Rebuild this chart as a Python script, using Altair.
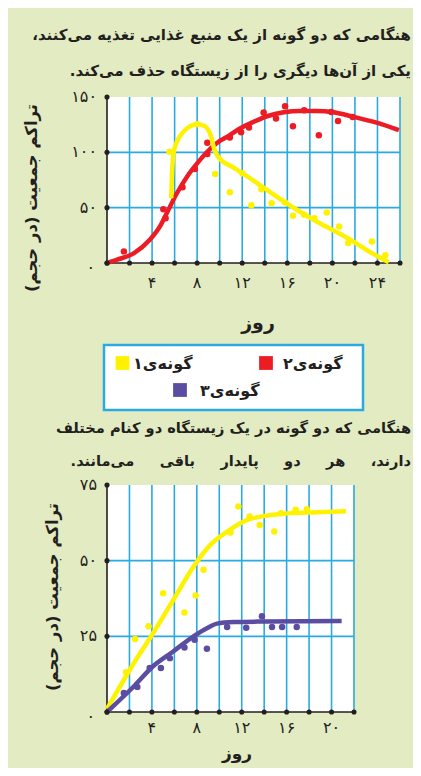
import altair as alt
import pandas as pd

# ---------------- data ----------------
# top panel: two species on one food source (species 1 yellow, species 2 red)
top_red_pts_day = [1.5, 5.0, 5.2, 6.7, 7.8, 8.9, 8.9, 10.9, 11.9, 12.6, 13.9, 15.0, 15.8, 16.5, 17.5, 18.8, 19.9, 20.5, 21.8]
top_red_pts_val = [10.5, 48.6, 40.5, 68.4, 85, 108.6, 98.4, 113.4, 118.2, 122.4, 136, 130.5, 141.6, 123.6, 138, 115.5, 136.5, 128.4, 132]
top_red_curve_day = [0, 0.9, 2.4, 3.8, 4.7, 5.3, 6.2, 7.1, 8.0, 8.9, 9.7, 10.9, 11.8, 13.0, 14.2, 15.7, 17.1, 18.6, 20.1, 21.9, 24.0, 25.9]
top_red_curve_val = [0, 3, 9, 21, 33, 45, 63, 78, 90, 100.5, 108, 115.5, 121.5, 127.5, 132.6, 136.2, 137.4, 137.4, 136.2, 132, 126.6, 120]

top_yel_pts_day = [5.55, 8.0, 9.6, 10.9, 12.0, 12.8, 13.7, 14.6, 15.8, 16.5, 17.5, 18.4, 19.5, 20.6, 21.4, 23.5, 24.7]
top_yel_pts_val = [100.5, 125.4, 80.4, 63.9, 81, 52.2, 66.6, 54, 54.6, 42.6, 43.5, 40.5, 45.6, 33, 18, 19.5, 6.9]
top_yel_curve_day = [5.7, 5.76, 5.9, 6.2, 6.65, 7.2, 8.0, 8.6, 9.2, 9.5, 9.9, 11.2, 12.7, 14.2, 15.7, 17.1, 18.6, 20.1, 21.6, 23.0, 25.0]
top_yel_curve_val = [58.5, 78, 99, 109.5, 117, 122.4, 125.4, 124, 115.5, 103.5, 95.4, 86.4, 76.5, 66, 55.5, 46.5, 37.5, 29.4, 21, 12, 0.6]

# bottom panel: two niches in one habitat (species 1 yellow, species 3 purple)
bot_yel_pts_day = [1.7, 2.5, 3.7, 5.0, 6.9, 7.9, 8.6, 11.0, 11.7, 12.7, 13.6, 14.9, 15.5, 16.8, 17.8]
bot_yel_pts_val = [13.1, 24.1, 28.3, 39.2, 32.9, 38.5, 47, 59.3, 67.9, 64.6, 61.8, 59.6, 65.7, 66.8, 67]
bot_yel_curve_day = [0, 2.4, 4.1, 5.9, 7.7, 9.2, 10.7, 12.7, 15.7, 18.7, 21.3]
bot_yel_curve_val = [1, 16.2, 26, 37, 48, 55.2, 59.6, 63.7, 65.5, 66, 66.3]

bot_pur_pts_day = [1.5, 2.7, 3.8, 4.8, 5.6, 6.9, 7.8, 8.9, 10.7, 12.4, 13.8, 14.7, 15.6, 16.9]
bot_pur_pts_val = [6.3, 8.3, 14.5, 14.5, 17.8, 21.3, 23.9, 20.9, 28.1, 27.8, 31.6, 28.1, 28.1, 28.1]
bot_pur_curve_day = [0, 2.4, 4.1, 5.9, 7.7, 8.9, 9.8, 11.3, 14.2, 20.9]
bot_pur_curve_val = [0, 8.5, 15.1, 20, 25, 27.7, 29.2, 29.7, 29.9, 30.1]

# axes
top_x_max, top_y_max = 26, 150
top_x_grid = list(range(2, 27, 2))
top_x_dots = list(range(0, 27, 2))
top_x_labels = [4, 8, 12, 16, 20, 24]
top_y_grid = [50, 100]
top_y_labels = [50, 100, 150]
top_y_dots = [0, 50, 100, 150]

bot_x_max, bot_y_max = 22, 75
bot_x_grid = list(range(2, 23, 2))
bot_x_dots = list(range(0, 23, 2))
bot_x_labels = [4, 8, 12, 16, 20]
bot_y_grid = [25, 50]
bot_y_labels = [25, 50, 75]
bot_y_dots = [0, 25, 50, 75]

RLM = "\u200f"
NB = "\u00a0" * 4
title_top = [RLM + "هنگامی که دو گونه از یک منبع غذایی تغذیه می\u200cکنند،" + RLM,
             RLM + "یکی از آن\u200cها دیگری را از زیستگاه حذف می\u200cکند." + RLM]
title_bot = [RLM + "هنگامی که دو گونه در یک زیستگاه دو کنام مختلف" + RLM,
             RLM + (" " + NB).join(["دارند،", "هر", "دو", "پایدار", "باقی", "می\u200cمانند."]) + RLM]
y_title = RLM + "تراکم جمعیت (در حجم)" + RLM
x_title = "روز"
legend_names = [RLM + "گونه\u200cی۱" + RLM, RLM + "گونه\u200cی۲" + RLM, RLM + "گونه\u200cی۳" + RLM]
legend_colors = ["#fff200", "#ed1c24", "#5b4ea2"]

# ---------------- style ----------------
BG = "#e2ebc1"
GRID = "#29abe2"
INK = "#231f20"
FONT = "DejaVu Sans"
YEL, RED, PUR = legend_colors
FA = str.maketrans("0123456789", "۰۱۲۳۴۵۶۷۸۹")


def fa(v):
    return str(v).translate(FA)


def XF(f, s):
    return alt.X(f"{f}:Q", scale=s, axis=None)


def YF(f, s):
    return alt.Y(f"{f}:Q", scale=s, axis=None)


def XD(v, s):
    return alt.XDatum(v, type="quantitative", scale=s, axis=None)


def YD(v, s):
    return alt.YDatum(v, type="quantitative", scale=s, axis=None)


one = pd.DataFrame({"a": [0]})


def panel(xs, ys, xmax, ymax, xg, xd, xl, yg, yl, ydots, series, xlab_dy):
    L = []
    L.append(alt.Chart(one).mark_rect(fill="white").encode(
        x=XD(0, xs), x2=alt.X2Datum(xmax), y=YD(0, ys), y2=alt.Y2Datum(ymax)))
    L.append(alt.Chart(pd.DataFrame({"g": xg})).mark_rule(color=GRID, strokeWidth=1.6).encode(
        x=XF("g", xs), y=YD(0, ys), y2=alt.Y2Datum(ymax)))
    L.append(alt.Chart(pd.DataFrame({"g": yg})).mark_rule(color=GRID, strokeWidth=1.6).encode(
        y=YF("g", ys), x=XD(0, xs), x2=alt.X2Datum(xmax)))
    L.append(alt.Chart(one).mark_rule(color=INK, strokeWidth=1.6).encode(
        x=XD(0, xs), x2=alt.X2Datum(xmax), y=YD(0, ys)))
    L.append(alt.Chart(one).mark_rule(color=INK, strokeWidth=1.6).encode(
        x=XD(0, xs), y=YD(0, ys), y2=alt.Y2Datum(ymax)))
    for cd, cv, pdy, pv, col in series:
        L.append(alt.Chart(pd.DataFrame({"d": cd, "v": cv})).mark_line(
            color=col, strokeWidth=4.5, interpolate="monotone").encode(x=XF("d", xs), y=YF("v", ys)))
        L.append(alt.Chart(pd.DataFrame({"d": pdy, "v": pv})).mark_circle(
            color=col, size=42, opacity=1).encode(x=XF("d", xs), y=YF("v", ys)))
    L.append(alt.Chart(pd.DataFrame({"t": xd})).mark_circle(color=INK, size=26, opacity=1).encode(
        x=XF("t", xs), y=YD(0, ys)))
    L.append(alt.Chart(pd.DataFrame({"t": ydots})).mark_circle(color=INK, size=26, opacity=1).encode(
        y=YF("t", ys), x=XD(0, xs)))
    L.append(alt.Chart(pd.DataFrame({"t": xl, "s": [fa(v) for v in xl]})).mark_text(
        font=FONT, fontSize=16, color=INK, baseline="middle", dy=xlab_dy).encode(
        x=XF("t", xs), y=YD(0, ys), text="s:N"))
    L.append(alt.Chart(pd.DataFrame({"t": yl, "s": [fa(v) for v in yl]})).mark_text(
        font=FONT, fontSize=16, color=INK, baseline="middle", align="right", dx=-10).encode(
        y=YF("t", ys), x=XD(0, xs), text="s:N"))
    L.append(alt.Chart(pd.DataFrame({"t": [0], "s": [fa(0)]})).mark_text(
        font=FONT, fontSize=16, color=INK, baseline="middle", align="right", dx=-12, dy=5).encode(
        y=YF("t", ys), x=XD(0, xs), text="s:N"))
    return L


def text_layer(t, x, y, size=16, align="right", baseline="alphabetic", angle=0):
    return alt.Chart(pd.DataFrame({"t": [t]})).mark_text(
        font=FONT, fontSize=size, fontWeight="bold", color=INK, align=align, baseline=baseline,
        angle=angle).encode(text="t:N", x=alt.value(x), y=alt.value(y))


top_xs = alt.Scale(domain=[0, top_x_max], range=[99, 392], nice=False, zero=False)
top_ys = alt.Scale(domain=[0, top_y_max], range=[255, 89], nice=False, zero=False)
bot_xs = alt.Scale(domain=[0, bot_x_max], range=[99, 346], nice=False, zero=False)
bot_ys = alt.Scale(domain=[0, bot_y_max], range=[704, 477], nice=False, zero=False)

layers = []
layers += panel(top_xs, top_ys, top_x_max, top_y_max, top_x_grid, top_x_dots, top_x_labels,
                top_y_grid, top_y_labels, top_y_dots,
                [(top_red_curve_day, top_red_curve_val, top_red_pts_day, top_red_pts_val, RED),
                 (top_yel_curve_day, top_yel_curve_val, top_yel_pts_day, top_yel_pts_val, YEL)], 20)
layers += panel(bot_xs, bot_ys, bot_x_max, bot_y_max, bot_x_grid, bot_x_dots, bot_x_labels,
                bot_y_grid, bot_y_labels, bot_y_dots,
                [(bot_yel_curve_day, bot_yel_curve_val, bot_yel_pts_day, bot_yel_pts_val, YEL),
                 (bot_pur_curve_day, bot_pur_curve_val, bot_pur_pts_day, bot_pur_pts_val, PUR)], 16)

layers += [
    text_layer(title_top[0], 403, 32, size=15),
    text_layer(title_top[1], 403, 68, size=15),
    text_layer(title_bot[0], 403, 425, size=14.6),
    text_layer(title_bot[1], 403, 458, size=14.6),
    text_layer(y_title, 24, 190, size=16.5, align="center", baseline="middle", angle=270),
    text_layer(y_title, 45, 589, size=16.5, align="center", baseline="middle", angle=270),
    text_layer(x_title, 250, 315, size=19, align="center", baseline="middle"),
    text_layer(x_title, 229, 746, size=17, align="center", baseline="middle"),
]

sw = 190
layers += [
    alt.Chart(one).mark_rect(fill="white", stroke=GRID, strokeWidth=2.5).encode(
        x=alt.value(96), x2=alt.value(355), y=alt.value(337), y2=alt.value(402)),
    alt.Chart(one).mark_square(color=legend_colors[0], size=sw, opacity=1).encode(
        x=alt.value(114.5), y=alt.value(355)),
    alt.Chart(one).mark_square(color=legend_colors[1], size=sw, opacity=1).encode(
        x=alt.value(258), y=alt.value(355)),
    alt.Chart(one).mark_square(color=legend_colors[2], size=sw, opacity=1).encode(
        x=alt.value(172), y=alt.value(382)),
    text_layer(legend_names[0], 125, 361, align="left"),
    text_layer(legend_names[1], 275, 361, align="left"),
    text_layer(legend_names[2], 192, 388, align="left"),
]

chart = alt.layer(*layers).resolve_scale(x="independent", y="independent").properties(
    width=405, height=760, padding=0, autosize=alt.AutoSizeParams(type="none")
).configure(background=BG).configure_view(stroke="transparent")

chart.save("out.html", embed_options={"renderer": "svg", "actions": False})
